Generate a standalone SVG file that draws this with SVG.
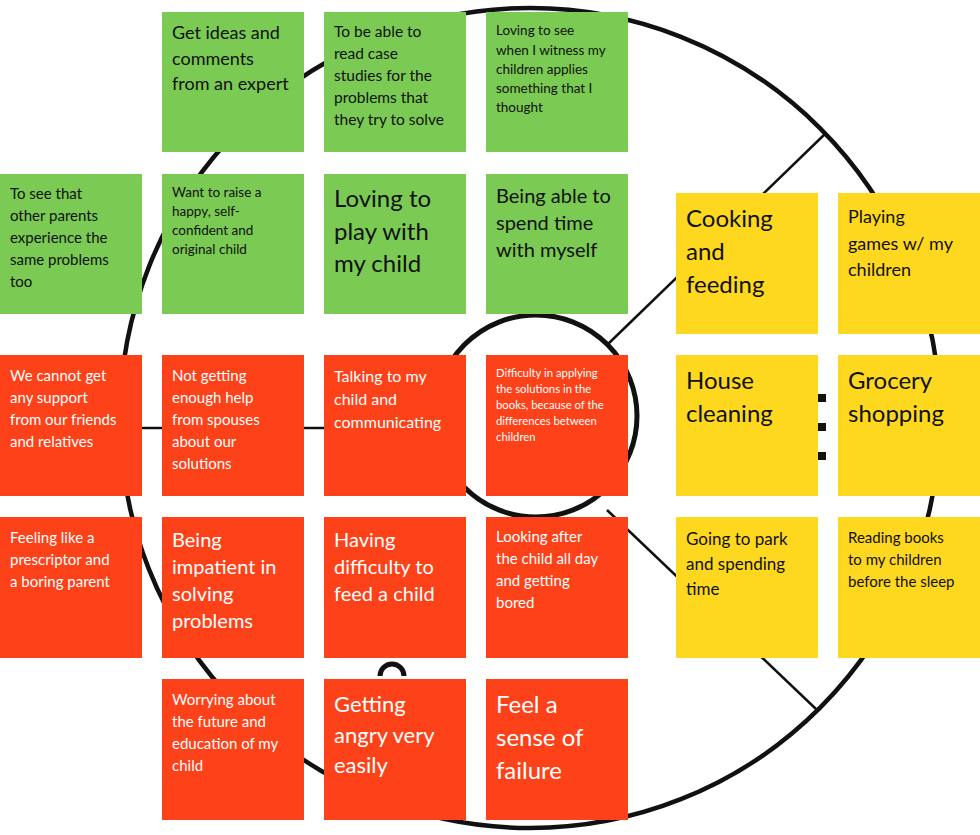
<svg xmlns="http://www.w3.org/2000/svg" width="980" height="835" viewBox="0 0 980 835">
<style>
text{font-family:"Lato","Noto Sans","Liberation Sans",sans-serif}
.g{fill:#7aca53}.r{fill:#fd4119}.y{fill:#fed81e}
.tb{fill:#111}.tw{fill:#fff}
.ln{fill:none;stroke:#111}
</style>
<rect width="980" height="835" fill="#fff"/>
<g id="connectors">
<circle class="ln" cx="530" cy="418" r="410" stroke-width="4.5"/>
<circle class="ln" cx="536" cy="416" r="101" stroke-width="5"/>
<line class="ln" x1="607" y1="345" x2="826" y2="133" stroke-width="2.5"/>
<line class="ln" x1="607" y1="510" x2="816" y2="709" stroke-width="2.5"/>
<line class="ln" x1="120" y1="428" x2="436" y2="428" stroke-width="2.5"/>
<path class="ln" d="M380 676 A12 12 0 0 1 404 676" stroke-width="5"/>
<rect x="818" y="394" width="8" height="8" fill="#111"/>
<rect x="818" y="423" width="8" height="8" fill="#111"/>
<rect x="818" y="452" width="8" height="8" fill="#111"/>
</g>
<g id="n1"><rect class="g" x="162" y="12" width="142" height="140"/><text class="tb" font-size="18"><tspan x="172" y="39">Get ideas and</tspan><tspan x="172" y="65">comments</tspan><tspan x="172" y="90">from an expert</tspan></text></g>
<g id="n2"><rect class="g" x="324" y="12" width="142" height="140"/><text class="tb" font-size="15.5"><tspan x="334" y="37">To be able to</tspan><tspan x="334" y="59">read case</tspan><tspan x="334" y="81">studies for the</tspan><tspan x="334" y="103">problems that</tspan><tspan x="334" y="125">they try to solve</tspan></text></g>
<g id="n3"><rect class="g" x="486" y="12" width="142" height="140"/><text class="tb" font-size="13.5"><tspan x="496" y="35">Loving to see</tspan><tspan x="496" y="55">when I witness my</tspan><tspan x="496" y="74">children applies</tspan><tspan x="496" y="93">something that I</tspan><tspan x="496" y="112">thought</tspan></text></g>
<g id="n4"><rect class="g" x="0" y="174" width="142" height="140"/><text class="tb" font-size="15"><tspan x="10" y="199">To see that</tspan><tspan x="10" y="221">other parents</tspan><tspan x="10" y="243">experience the</tspan><tspan x="10" y="265">same problems</tspan><tspan x="10" y="287">too</tspan></text></g>
<g id="n5"><rect class="g" x="162" y="174" width="142" height="140"/><text class="tb" font-size="13.5"><tspan x="172" y="197">Want to raise a</tspan><tspan x="172" y="216">happy, self-</tspan><tspan x="172" y="235">confident and</tspan><tspan x="172" y="254">original child</tspan></text></g>
<g id="n6"><rect class="g" x="324" y="174" width="142" height="140"/><text class="tb" font-size="24"><tspan x="334" y="207">Loving to</tspan><tspan x="334" y="240">play with</tspan><tspan x="334" y="272">my child</tspan></text></g>
<g id="n7"><rect class="g" x="486" y="174" width="142" height="140"/><text class="tb" font-size="20"><tspan x="496" y="203">Being able to</tspan><tspan x="496" y="230">spend time</tspan><tspan x="496" y="257">with myself</tspan></text></g>
<g id="n8"><rect class="r" x="0" y="355" width="142" height="141"/><text class="tw" font-size="15"><tspan x="10" y="381">We cannot get</tspan><tspan x="10" y="403">any support</tspan><tspan x="10" y="425">from our friends</tspan><tspan x="10" y="447">and relatives</tspan></text></g>
<g id="n9"><rect class="r" x="162" y="355" width="142" height="141"/><text class="tw" font-size="15"><tspan x="172" y="381">Not getting</tspan><tspan x="172" y="403">enough help</tspan><tspan x="172" y="425">from spouses</tspan><tspan x="172" y="447">about our</tspan><tspan x="172" y="469">solutions</tspan></text></g>
<g id="n10"><rect class="r" x="324" y="355" width="142" height="141"/><text class="tw" font-size="16"><tspan x="334" y="382">Talking to my</tspan><tspan x="334" y="405">child and</tspan><tspan x="334" y="428">communicating</tspan></text></g>
<g id="n11"><rect class="r" x="486" y="355" width="142" height="141"/><text class="tw" font-size="11.3"><tspan x="496" y="377">Difficulty in applying</tspan><tspan x="496" y="393">the solutions in the</tspan><tspan x="496" y="409">books, because of the</tspan><tspan x="496" y="425">differences between</tspan><tspan x="496" y="441">children</tspan></text></g>
<g id="n12"><rect class="r" x="0" y="517" width="142" height="141"/><text class="tw" font-size="15"><tspan x="10" y="543">Feeling like a</tspan><tspan x="10" y="565">prescriptor and</tspan><tspan x="10" y="587">a boring parent</tspan></text></g>
<g id="n13"><rect class="r" x="162" y="517" width="142" height="141"/><text class="tw" font-size="20"><tspan x="172" y="547">Being</tspan><tspan x="172" y="574">impatient in</tspan><tspan x="172" y="601">solving</tspan><tspan x="172" y="628">problems</tspan></text></g>
<g id="n14"><rect class="r" x="324" y="517" width="142" height="141"/><text class="tw" font-size="20"><tspan x="334" y="547">Having</tspan><tspan x="334" y="574">difficulty to</tspan><tspan x="334" y="601">feed a child</tspan></text></g>
<g id="n15"><rect class="r" x="486" y="517" width="142" height="141"/><text class="tw" font-size="15"><tspan x="496" y="542">Looking after</tspan><tspan x="496" y="564">the child all day</tspan><tspan x="496" y="586">and getting</tspan><tspan x="496" y="608">bored</tspan></text></g>
<g id="n16"><rect class="r" x="162" y="679" width="142" height="141"/><text class="tw" font-size="15"><tspan x="172" y="705">Worrying about</tspan><tspan x="172" y="727">the future and</tspan><tspan x="172" y="749">education of my</tspan><tspan x="172" y="771">child</tspan></text></g>
<g id="n17"><rect class="r" x="324" y="679" width="142" height="141"/><text class="tw" font-size="22"><tspan x="334" y="712">Getting</tspan><tspan x="334" y="743">angry very</tspan><tspan x="334" y="773">easily</tspan></text></g>
<g id="n18"><rect class="r" x="486" y="679" width="142" height="141"/><text class="tw" font-size="24"><tspan x="496" y="713">Feel a</tspan><tspan x="496" y="746">sense of</tspan><tspan x="496" y="779">failure</tspan></text></g>
<g id="n19"><rect class="y" x="676" y="193" width="142" height="141"/><text class="tb" font-size="24"><tspan x="686" y="227">Cooking</tspan><tspan x="686" y="260">and</tspan><tspan x="686" y="293">feeding</tspan></text></g>
<g id="n20"><rect class="y" x="838" y="193" width="142" height="141"/><text class="tb" font-size="18"><tspan x="848" y="223">Playing</tspan><tspan x="848" y="250">games w/ my</tspan><tspan x="848" y="276">children</tspan></text></g>
<g id="n21"><rect class="y" x="676" y="355" width="142" height="141"/><text class="tb" font-size="24"><tspan x="686" y="389">House</tspan><tspan x="686" y="422">cleaning</tspan></text></g>
<g id="n22"><rect class="y" x="838" y="355" width="142" height="141"/><text class="tb" font-size="24"><tspan x="848" y="389">Grocery</tspan><tspan x="848" y="422">shopping</tspan></text></g>
<g id="n23"><rect class="y" x="676" y="517" width="142" height="141"/><text class="tb" font-size="17"><tspan x="686" y="545">Going to park</tspan><tspan x="686" y="570">and spending</tspan><tspan x="686" y="595">time</tspan></text></g>
<g id="n24"><rect class="y" x="838" y="517" width="142" height="141"/><text class="tb" font-size="15"><tspan x="848" y="543">Reading books</tspan><tspan x="848" y="565">to my children</tspan><tspan x="848" y="587">before the sleep</tspan></text></g>
</svg>
